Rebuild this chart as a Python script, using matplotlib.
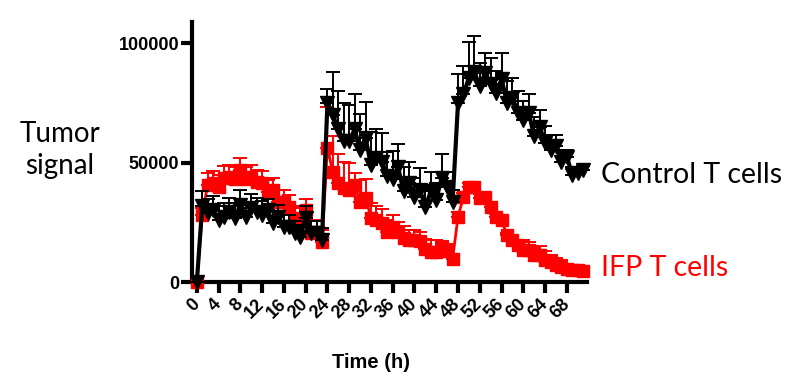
import numpy as np
import matplotlib
matplotlib.use('Agg')
import matplotlib.pyplot as plt

hours = list(range(72))

control = [0, 32000, 29000, 30000, 26000, 27300, 29400, 27000, 32400, 27300,
           31000, 29400, 28000, 30000, 24800, 27300, 23100, 23100, 20600, 19000,
           27000, 20600, 20600, 17600, 75000, 70000, 64000, 59000, 59000, 64000,
           55500, 60500, 49000, 52000, 50400, 44500, 43000, 48000, 38000, 41500,
           35800, 38700, 31500, 38000, 34500, 43700, 40000, 33600, 75000, 78600,
           85700, 88000, 82000, 87800, 82800, 79400, 85000, 75200, 77300, 71000,
           68000, 71000, 61000, 65000, 58400, 55500, 56800, 50400, 52500, 45000,
           45800, 47000]
control_err = [0, 6000, 6000, 6000, 6000, 6000, 6000, 6000, 6000, 6000,
               6000, 6000, 6000, 5000, 5000, 5000, 5000, 5000, 5000, 5000,
               5000, 5000, 5000, 5000, 6000, 18000, 16000, 16000, 15000, 15000,
               15000, 15000, 14000, 12000, 12000, 10000, 12000, 10000, 10000, 9000,
               8000, 9000, 9000, 8000, 7000, 10000, 6000, 5000, 12000, 12000,
               15000, 15000, 10000, 8000, 11000, 9000, 11000, 9000, 8000, 9000,
               8000, 8000, 8000, 7000, 7000, 6000, 5000, 5000, 3000, 3000,
               2000, 1500]

ifp = [0, 28000, 40800, 41600, 40000, 43700, 44000, 43000, 47000, 43000,
       44000, 42000, 41600, 37800, 38700, 33600, 33600, 31500, 27000, 26000,
       30000, 20600, 21000, 16800, 56300, 46000, 41600, 39500, 38700, 40800,
       33600, 35300, 27000, 26000, 24800, 21000, 23000, 21000, 18500, 17600,
       17600, 17000, 14000, 12600, 12600, 14300, 13000, 9700, 27300, 35700,
       40000, 40000, 35300, 35700, 31500, 27300, 26000, 19700, 17600, 15500,
       13400, 13400, 11300, 11300, 9200, 8400, 7100, 6300, 5500, 5000,
       5000, 4500]
ifp_err = [0, 3000, 5000, 5000, 5000, 5000, 5000, 5000, 5000, 5000,
           5000, 5000, 5000, 5000, 5000, 5000, 5000, 5000, 5000, 5000,
           5000, 5000, 5000, 5000, 17000, 15000, 12000, 11000, 11000, 5000,
           9000, 8000, 6000, 6000, 6000, 5000, 5000, 4000, 5000, 4000,
           4000, 4000, 4000, 5000, 5000, 3000, 3000, 2000, 2000, 1500,
           1500, 1500, 1500, 1000, 1000, 1000, 1000, 1000, 1500, 2000,
           4000, 3500, 3000, 4000, 4000, 3000, 3000, 3000, 2000, 2000,
           2000, 1500]

xticks = list(range(0, 69, 4))
yticks = [0, 50000, 100000]

fig = plt.figure(figsize=(8.03, 3.87), dpi=100)
ax = fig.add_axes([0.239, 0.2713, 0.492, 0.672])

zeros = np.zeros(len(hours))
ax.errorbar(hours, ifp, yerr=[zeros, ifp_err], fmt='none', ecolor='red',
            elinewidth=1.4, capsize=5, capthick=1.4, zorder=2, clip_on=False)
ax.plot(hours, ifp, color='red', lw=2, marker='s', ms=8.5, mec='red',
        mfc='red', zorder=3, clip_on=False)
ax.errorbar(hours, control, yerr=[zeros, control_err], fmt='none', ecolor='black',
            elinewidth=1.4, capsize=5, capthick=1.4, zorder=4, clip_on=False)
ax.plot(hours, control, color='black', lw=3, marker='v', ms=10, mec='black',
        mfc='black', zorder=5, clip_on=False)

ax.set_xlim(-0.9, 71.7)
ax.set_ylim(0, 109000)
ax.set_xticks(xticks)
ax.set_yticks(yticks)
ax.set_xticklabels([str(t) for t in xticks], rotation=45, ha='right', va='center',
                   rotation_mode='anchor', fontweight='bold', fontsize=13,
                   family='Liberation Sans')
ax.set_yticklabels([str(v) for v in yticks], fontweight='bold', fontsize=13,
                   family='Liberation Sans')
ax.tick_params(width=3, length=8, direction='out', pad=1)
ax.tick_params(axis='x', pad=6)
for s in ['top', 'right']:
    ax.spines[s].set_visible(False)
for s in ['left', 'bottom']:
    ax.spines[s].set_linewidth(3)

fig.text(371 / 803, 1 - 363 / 387, 'Time (h)', ha='center', va='center',
         fontsize=14.5, fontweight='bold', family='Liberation Sans')
fig.text(60 / 803, 1 - 150 / 387, 'Tumor\nsignal', ha='center', va='center',
         fontsize=20, family='Lato', linespacing=1.3)
fig.text(601 / 803, 1 - 175 / 387, 'Control T cells', ha='left', va='center',
         fontsize=20.5, family='Lato', color='black')
fig.text(601 / 803, 1 - 268 / 387, 'IFP T cells', ha='left', va='center',
         fontsize=20.5, family='Lato', color='red')

fig.savefig('out.png', dpi=100)
